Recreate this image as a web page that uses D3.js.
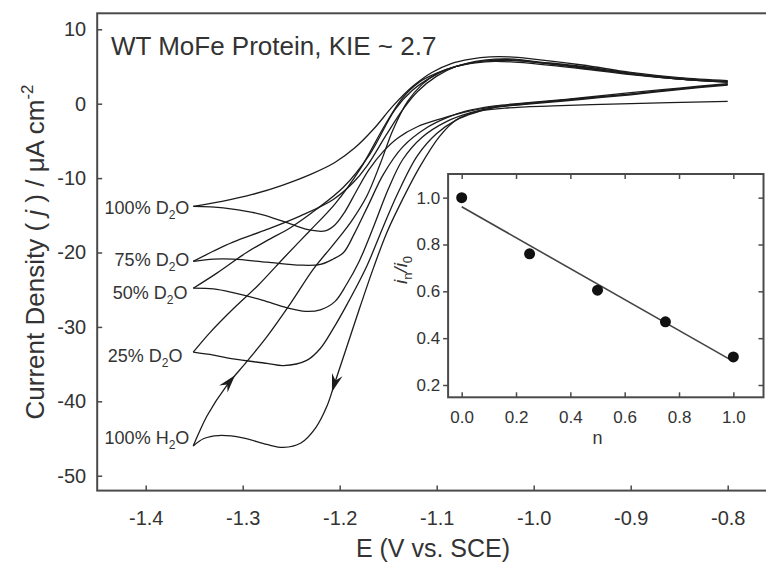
<!DOCTYPE html>
<html>
<head>
<meta charset="utf-8">
<script src="https://cdnjs.cloudflare.com/ajax/libs/d3/7.8.5/d3.min.js"></script>
<style>
  body { margin: 0; background: #fff; }
  svg { display: block; font-family: "Liberation Sans", Arial, sans-serif; }
  .frame { fill: none; stroke: #4a4a4a; stroke-width: 2; }
  .cv { fill: none; stroke: #1c1c1c; stroke-width: 1.3; }
  .tick text { fill: #333; }
  .tick line { stroke: #4a4a4a; stroke-width: 1.5; }
</style>
</head>
<body>
<div id="chart"></div>
<script>
// ---- main plot data: cyclic voltammograms, [E (V vs SCE), j (uA cm-2)] ----
// forward = cathodic sweep from -0.8 V, reverse = anodic sweep back to -0.8 V
const d2o100Fwd = [[-0.80, 2.6], [-0.85, 2.0], [-0.90, 1.3], [-0.95, 0.7], [-1.00, 0.1], [-1.04, -0.4], [-1.07, -1.1], [-1.095, -2.0], [-1.12, -3.1], [-1.14, -4.6], [-1.155, -6.4], [-1.17, -8.9], [-1.183, -11.8], [-1.195, -14.6], [-1.205, -16.3], [-1.215, -17.1], [-1.23, -17.0], [-1.25, -16.2], [-1.27, -15.3], [-1.29, -14.6], [-1.32, -14.0], [-1.351, -13.8]];
const d2o100Rev = [[-1.351, -13.8], [-1.32, -13.1], [-1.29, -12.2], [-1.26, -11.0], [-1.23, -9.5], [-1.205, -7.9], [-1.185, -6.0], [-1.165, -3.4], [-1.145, -0.3], [-1.125, 2.3], [-1.105, 4.2], [-1.085, 5.4], [-1.065, 6.0], [-1.045, 6.3], [-1.025, 6.3], [-1.0, 6.0], [-0.95, 5.2], [-0.90, 4.2], [-0.85, 3.5], [-0.80, 3.1]];

const d2o75Fwd = [[-0.80, 2.7], [-0.85, 2.1], [-0.90, 1.5], [-0.95, 0.8], [-1.00, 0.2], [-1.04, -0.3], [-1.07, -1.0], [-1.09, -1.9], [-1.11, -3.2], [-1.135, -5.8], [-1.155, -9.5], [-1.17, -13.5], [-1.185, -17.5], [-1.196, -20.0], [-1.207, -20.9], [-1.22, -21.6], [-1.24, -21.7], [-1.275, -21.3], [-1.31, -20.9], [-1.33, -20.9], [-1.351, -21.2]];
const d2o75Rev = [[-1.351, -21.2], [-1.33, -19.8], [-1.31, -18.6], [-1.275, -16.9], [-1.241, -15.1], [-1.207, -12.9], [-1.186, -10.6], [-1.172, -8.4], [-1.152, -4.2], [-1.135, -0.8], [-1.12, 1.6], [-1.10, 3.7], [-1.08, 5.0], [-1.06, 5.7], [-1.04, 6.0], [-1.02, 6.0], [-1.0, 5.7], [-0.95, 5.0], [-0.90, 4.1], [-0.85, 3.4], [-0.80, 3.0]];

const d2o50Fwd = [[-0.80, 2.5], [-0.85, 1.9], [-0.90, 1.2], [-0.95, 0.6], [-1.00, 0.0], [-1.04, -0.5], [-1.065, -1.2], [-1.09, -2.4], [-1.115, -4.5], [-1.135, -7.5], [-1.15, -11.5], [-1.165, -16.5], [-1.18, -21.2], [-1.193, -24.3], [-1.205, -26.6], [-1.22, -27.7], [-1.235, -27.9], [-1.255, -27.4], [-1.28, -26.4], [-1.31, -25.4], [-1.33, -24.9], [-1.351, -24.8]];
const d2o50Rev = [[-1.351, -24.8], [-1.327, -22.8], [-1.296, -20.0], [-1.275, -18.4], [-1.25, -16.6], [-1.224, -14.2], [-1.196, -11.2], [-1.169, -6.8], [-1.143, -0.8], [-1.125, 1.8], [-1.105, 3.6], [-1.085, 4.8], [-1.065, 5.5], [-1.045, 5.8], [-1.02, 5.8], [-1.0, 5.6], [-0.95, 4.9], [-0.90, 4.0], [-0.85, 3.3], [-0.80, 2.9]];

const d2o25Fwd = [[-0.80, 2.6], [-0.85, 2.0], [-0.90, 1.3], [-0.95, 0.7], [-1.00, 0.1], [-1.04, -0.5], [-1.06, -1.2], [-1.08, -2.2], [-1.10, -4.0], [-1.12, -7.0], [-1.14, -12.0], [-1.155, -16.5], [-1.172, -21.8], [-1.193, -27.1], [-1.207, -30.3], [-1.22, -32.9], [-1.234, -34.5], [-1.258, -35.2], [-1.275, -34.9], [-1.31, -34.3], [-1.33, -33.8], [-1.351, -33.4]];
const d2o25Rev = [[-1.351, -33.4], [-1.334, -30.8], [-1.31, -27.6], [-1.284, -24.4], [-1.256, -20.5], [-1.231, -17.1], [-1.205, -13.5], [-1.179, -8.8], [-1.153, -2.8], [-1.135, 0.8], [-1.118, 2.9], [-1.10, 4.1], [-1.08, 5.0], [-1.06, 5.6], [-1.04, 5.9], [-1.02, 5.9], [-1.0, 5.6], [-0.95, 4.8], [-0.90, 4.0], [-0.85, 3.3], [-0.80, 2.9]];

const h2oFwd = [[-0.80, 0.3], [-0.86, 0.15], [-0.92, -0.05], [-0.98, -0.3], [-1.03, -0.6], [-1.06, -1.1], [-1.08, -2.2], [-1.097, -4.4], [-1.117, -8.4], [-1.138, -13.6], [-1.152, -17.5], [-1.165, -22.0], [-1.179, -27.3], [-1.193, -32.8], [-1.205, -37.5], [-1.213, -40.6], [-1.225, -43.6], [-1.24, -45.6], [-1.258, -46.2], [-1.275, -45.8], [-1.30, -44.9], [-1.325, -44.6], [-1.34, -45.0], [-1.351, -46.0]];
const h2oRev = [[-1.351, -46.0], [-1.345, -44.2], [-1.337, -42.0], [-1.3165, -37.9], [-1.296, -34.7], [-1.275, -31.3], [-1.251, -26.9], [-1.227, -22.2], [-1.207, -19.0], [-1.188, -15.8], [-1.172, -12.4], [-1.158, -8.0], [-1.145, -3.5], [-1.13, 0.3], [-1.115, 2.6], [-1.10, 4.0], [-1.08, 5.0], [-1.06, 5.5], [-1.04, 5.7], [-1.02, 5.6], [-1.0, 5.4], [-0.95, 4.7], [-0.90, 3.9], [-0.85, 3.3], [-0.80, 2.9]];

const branches = [d2o100Fwd, d2o100Rev, d2o75Fwd, d2o75Rev, d2o50Fwd, d2o50Rev, d2o25Fwd, d2o25Rev, h2oFwd, h2oRev];

// curve labels (text + the current where each label sits, at the switching potential)
const labelPct = ["100%", "75%", "50%", "25%", "100%"];
const labelIsotope = ["D", "D", "D", "D", "H"];
const labelJ = [-14.0, -21.0, -25.4, -33.9, -44.9];
const labelE = [-1.355, -1.355, -1.357, -1.362, -1.355];

// potentials where the scan-direction arrow tips sit on the H2O trace
const arrowE = [-1.308, -1.208];

const xTicks = [-1.4, -1.3, -1.2, -1.1, -1.0, -0.9, -0.8];
const yTicks = [10, 0, -10, -20, -30, -40, -50];

// ---- inset data: normalised current vs. deuterium fraction ----
const nVals = [0.0, 0.25, 0.5, 0.75, 1.0];
const ratioVals = [1.0, 0.76, 0.605, 0.47, 0.32];
const insetXTicks = [0.0, 0.2, 0.4, 0.6, 0.8, 1.0];
const insetYTicks = [0.2, 0.4, 0.6, 0.8, 1.0];

const W = 766, H = 566;
const svg = d3.select("#chart").append("svg").attr("width", W).attr("height", H);

// scales (plot frame runs past the right edge of the picture, like the source crop)
const x = d3.scaleLinear().domain([-1.45, -0.75]).range([97.2, 776.2]);
const y = d3.scaleLinear().domain([-52, 12.15]).range([490.6, 13.3]);
const fmt1 = d => d.toFixed(1);

// axes with inward ticks
const gy = svg.append("g").attr("transform", `translate(${x(-1.45)},0)`)
  .call(d3.axisLeft(y).tickValues(yTicks).tickSize(-5).tickPadding(11).tickFormat(d => String(d)));
const gx = svg.append("g").attr("transform", `translate(0,${y(-52)})`)
  .call(d3.axisBottom(x).tickValues(xTicks).tickSize(-5).tickPadding(20).tickFormat(fmt1));
[gx, gy].forEach(g => {
  g.select(".domain").remove();
  g.selectAll(".tick text").attr("font-size", 20).attr("font-family", "Liberation Sans, Arial, sans-serif");
});

svg.append("rect").attr("class", "frame")
  .attr("x", x(-1.45)).attr("y", y(12.15))
  .attr("width", x(-0.75) - x(-1.45)).attr("height", y(-52) - y(12.15));

// CV branches
const line = d3.line().x(d => x(d[0])).y(d => y(d[1])).curve(d3.curveCatmullRom.alpha(0.5));
const paths = svg.append("g").selectAll("path").data(branches).join("path")
  .attr("class", "cv").attr("d", line);

// scan-direction arrows on the H2O trace
function arrowAt(node, targetE) {
  const L = node.getTotalLength();
  let best = 0, bd = Infinity;
  for (let l = 0; l <= L; l += 0.5) {
    const p = node.getPointAtLength(l);
    const dd = Math.abs(p.x - x(targetE));
    if (dd < bd) { bd = dd; best = l; }
  }
  const p = node.getPointAtLength(best);
  const a = node.getPointAtLength(Math.max(0, best - 3));
  const b = node.getPointAtLength(Math.min(L, best + 3));
  const ang = Math.atan2(b.y - a.y, b.x - a.x) * 180 / Math.PI;
  svg.append("path")
    .attr("d", "M0,0 L-18,-5.5 L-12,0 L-18,5.5 Z")
    .attr("fill", "#1c1c1c")
    .attr("transform", `translate(${p.x},${p.y}) rotate(${ang})`);
}
const pathNodes = paths.nodes();
arrowAt(pathNodes[9], arrowE[0]);
arrowAt(pathNodes[8], arrowE[1]);

// curve labels
const lab = svg.append("g").attr("font-size", 18).attr("fill", "#333").attr("text-anchor", "end");
labelPct.forEach((p, i) => {
  const t = lab.append("text").attr("x", x(labelE[i])).attr("y", y(labelJ[i])).attr("dy", "0.35em");
  t.append("tspan").text(p + " " + labelIsotope[i]);
  t.append("tspan").attr("font-size", 12).attr("dy", 5).text("2");
  t.append("tspan").attr("dy", -5).text("O");
});

// title
svg.append("text").attr("x", 111).attr("y", 55).attr("font-size", 26).attr("fill", "#333")
  .text("WT MoFe Protein, KIE ~ 2.7");

// axis titles
svg.append("text").attr("x", 433).attr("y", 557).attr("font-size", 25).attr("fill", "#333")
  .attr("text-anchor", "middle").text("E (V vs. SCE)");
const yl = svg.append("text").attr("transform", `translate(44,${(y(12.15) + y(-52)) / 2}) rotate(-90)`)
  .attr("font-size", 26).attr("fill", "#333").attr("text-anchor", "middle");
yl.append("tspan").text("Current Density ( ");
yl.append("tspan").attr("font-style", "italic").text("j");
yl.append("tspan").text(" ) / \u03bcA cm");
yl.append("tspan").attr("font-size", 17).attr("dy", -11).text("-2");

// ---- inset ----
const ix = d3.scaleLinear().domain([-0.05, 1.111]).range([448.1, 763.5]);
const iy = d3.scaleLinear().domain([0.1475, 1.101]).range([397.3, 174]);
const inset = svg.append("g");
inset.append("rect").attr("x", ix(-0.05)).attr("y", iy(1.101))
  .attr("width", ix(1.111) - ix(-0.05)).attr("height", iy(0.1475) - iy(1.101)).attr("fill", "#fff");

const ig = [
  inset.append("g").attr("transform", `translate(${ix(-0.05)},0)`)
    .call(d3.axisLeft(iy).tickValues(insetYTicks).tickSize(5).tickPadding(3).tickFormat(fmt1)),
  inset.append("g").attr("transform", `translate(0,${iy(0.1475)})`)
    .call(d3.axisBottom(ix).tickValues(insetXTicks).tickSize(-5).tickPadding(14).tickFormat(fmt1)),
  inset.append("g").attr("transform", `translate(0,${iy(1.101)})`)
    .call(d3.axisTop(ix).tickValues(insetXTicks).tickSize(-5).tickFormat("")),
  inset.append("g").attr("transform", `translate(${ix(1.111)},0)`)
    .call(d3.axisRight(iy).tickValues(insetYTicks).tickSize(-5).tickFormat(""))
];
ig.forEach(g => {
  g.select(".domain").remove();
  g.selectAll(".tick text").attr("font-size", 17).attr("font-family", "Liberation Sans, Arial, sans-serif");
});
inset.append("rect").attr("class", "frame")
  .attr("x", ix(-0.05)).attr("y", iy(1.101))
  .attr("width", ix(1.111) - ix(-0.05)).attr("height", iy(0.1475) - iy(1.101));

// least-squares fit line
const mx = d3.mean(nVals), my = d3.mean(ratioVals);
const slope = d3.sum(nVals, (v, i) => (v - mx) * (ratioVals[i] - my)) / d3.sum(nVals, v => (v - mx) * (v - mx));
const icpt = my - slope * mx;
const ext = d3.extent(nVals);
inset.append("line")
  .attr("x1", ix(ext[0])).attr("y1", iy(icpt + slope * ext[0]))
  .attr("x2", ix(ext[1])).attr("y2", iy(icpt + slope * ext[1]))
  .attr("stroke", "#444").attr("stroke-width", 1.6);

inset.selectAll("circle").data(nVals).join("circle")
  .attr("cx", d => ix(d)).attr("cy", (d, i) => iy(ratioVals[i])).attr("r", 5.5).attr("fill", "#111");

inset.append("text").attr("x", ix(0.5)).attr("y", 444).attr("text-anchor", "middle")
  .attr("font-size", 18).attr("fill", "#333").text("n");
const il = inset.append("text").attr("transform", "translate(407,270) rotate(-90)")
  .attr("font-size", 19).attr("fill", "#333").attr("text-anchor", "middle");
il.append("tspan").attr("font-style", "italic").text("i");
il.append("tspan").attr("font-size", 13).attr("dy", 5).text("n");
il.append("tspan").attr("dy", -5).attr("font-style", "italic").text("/i");
il.append("tspan").attr("font-size", 13).attr("dy", 5).text("0");
</script>
</body>
</html>
